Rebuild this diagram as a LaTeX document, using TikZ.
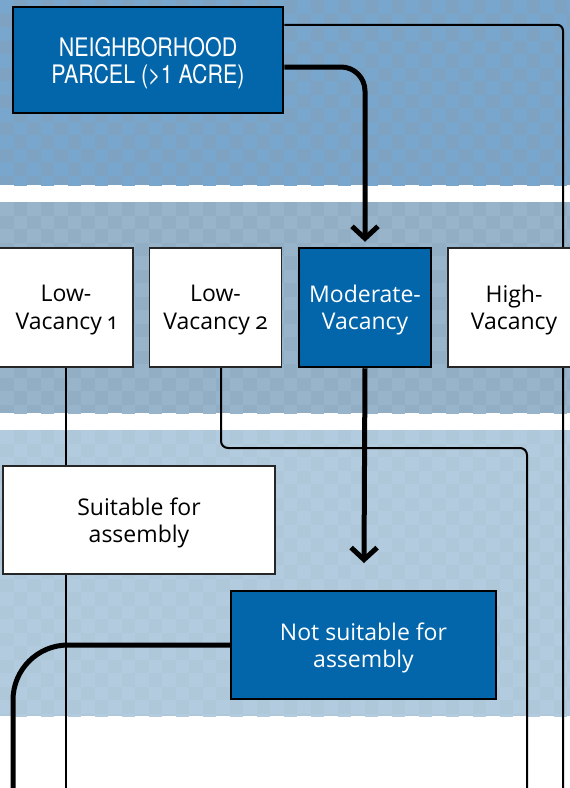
\documentclass[tikz,border=0pt]{standalone}
\usepackage{fontspec}
\setmainfont{Open Sans}[Numbers=OldStyle]
\newfontfamily\capsfont{TeX Gyre Heros}[FakeStretch=0.84]
\usepackage{tikz}
\usetikzlibrary{arrows.meta}
\definecolor{boxblue}{HTML}{0366AA}
\definecolor{bandA}{HTML}{7EA3C2}
\definecolor{spotA}{HTML}{78A6CC}
\definecolor{bandB}{HTML}{92AEC4}
\definecolor{spotB}{HTML}{97B4CB}
\definecolor{bandC}{HTML}{AEC7D9}
\definecolor{spotC}{HTML}{B2CBDE}
\pgfdeclarelayer{bg}
\pgfdeclarelayer{lines}
\pgfsetlayers{bg,lines,main}
% band with a soft checker: #1 top, #2 bottom, #3 base colour, #4 square colour
\newcommand{\checkband}[4]{
    \begin{scope}
        \clip (0,#1) rectangle (570,#2);
        \fill[#3] (0,#1) rectangle (570,#2);
        \foreach \i in {0,...,21}
            \foreach \j in {0,...,10}{
                \fill[#4] (\i*27,#1+\j*27) rectangle ++(13.5,13.5);
                \fill[#4] (\i*27+13.5,#1+\j*27+13.5) rectangle ++(13.5,13.5);
            }
    \end{scope}
}
\tikzstyle{every node}=[font=\fontsize{23}{27.5}\selectfont, align=center, inner sep=0pt, text depth=0pt]
\tikzstyle{whitebox}=[draw=black!85, line width=1.5pt, fill=white, text=black]
\tikzstyle{bluebox}=[draw=black, line width=2.5pt, fill=boxblue, text=white]
\tikzstyle{wire}=[line width=2pt]
\tikzstyle{heavy}=[line width=5pt]

\begin{document}
\begin{tikzpicture}[x=1pt, y=-1pt, >={Straight Barb[length=12pt,width=26pt]}]
        \useasboundingbox (0,0) rectangle (570,788);
        \begin{pgfonlayer}{bg}
            \checkband{0}{185}{bandA}{spotA}
            \checkband{202}{413}{bandB}{spotB}
            \checkband{430}{716}{bandC}{spotC}
        \end{pgfonlayer}
        \node[bluebox, minimum width=270pt, minimum height=106pt, text depth=-7pt, font=\capsfont\fontsize{25.5}{27}\selectfont] (P) at (148,60) {NEIGHBORHOOD\\PARCEL (>1 ACRE)};
        \node[whitebox, minimum width=134pt, minimum height=119pt] (L1) at (66,307.5) {Low-\\Vacancy 1};
        \node[whitebox, minimum width=132pt, minimum height=119pt] (L2) at (215.5,307.5) {Low-\\Vacancy 2};
        \node[bluebox, minimum width=132pt, minimum height=119pt] (M) at (365,307.5) {Moderate-\\Vacancy};
        \node[whitebox, minimum width=132pt, minimum height=119pt] (H) at (514,307.5) {High-\\Vacancy};
        \node[whitebox, minimum width=272pt, minimum height=108pt] (S) at (139,520) {Suitable for\\assembly};
        \node[bluebox, minimum width=265pt, minimum height=108pt] (N) at (363.5,645) {Not suitable for\\assembly};
        \begin{pgfonlayer}{lines}
            \coordinate (eR) at (563,795);
            \coordinate (eM) at (527,795);
            \coordinate (kM) at (527,448);
            \coordinate (eA) at (66,795);
            \coordinate (eB) at (13,795);
            \coordinate (tM) at (364,563);
            \draw[wire, rounded corners=6pt] ([yshift=-19pt]P.north east) -| (eR);
            \draw[heavy, ->, rounded corners=24pt] ([yshift=-7pt]P.east) -| ([yshift=5pt]M.north);
            \draw[wire] (L1.south) -- (L1.south |- eA);
            \draw[wire, rounded corners=7pt] ([xshift=5.5pt]L2.south) |- (kM) -- (eM);
            \draw[heavy, ->] (M.south) -- (tM);
            \draw[heavy, rounded corners=55pt] (N.west) -| (eB);
        \end{pgfonlayer}
    \end{tikzpicture}
\end{document}
